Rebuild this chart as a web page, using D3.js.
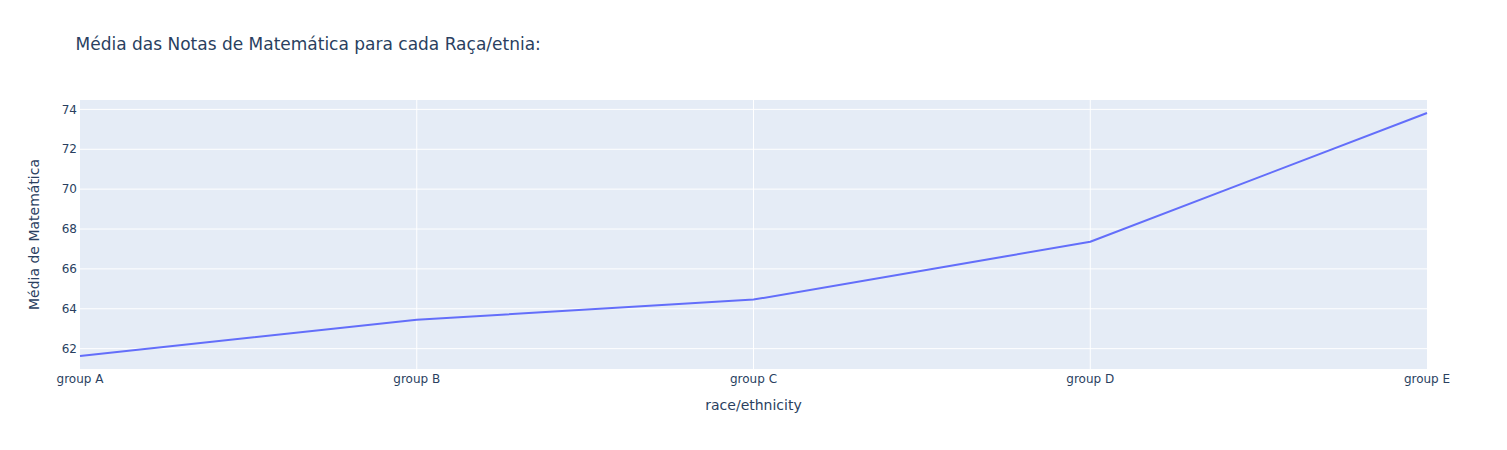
<!DOCTYPE html>
<html>

<head>
  <meta charset="utf-8">
  <title>Média das Notas de Matemática</title>
  <style>
    body {
      margin: 0;
      background: #fff;
    }

    text {
      font-family: "DejaVu Sans", verdana, arial, sans-serif;
      fill: #2a3f5f;
    }

    .grid line {
      stroke: #fff;
      stroke-width: 1px;
    }
  </style>
</head>

<body>
  <svg width="1507" height="450"></svg>

  <script src="https://d3js.org/d3.v7.min.js"></script>
  <script>
    // Dados
    var grupos = ["group A", "group B", "group C", "group D", "group E"];
    var mediaMat = [61.63, 63.45, 64.46, 67.36, 73.82];
    var yTicks = [62, 64, 66, 68, 70, 72, 74];
    var yRange = [60.98, 74.47];

    var margin = { top: 100, right: 80, bottom: 81, left: 80 };
    var width = 1507 - margin.left - margin.right;
    var height = 450 - margin.top - margin.bottom;

    var svg = d3.select("svg");

    var g = svg.append("g")
      .attr("transform", "translate(" + margin.left + "," + margin.top + ")");

    var x = d3.scalePoint()
      .domain(grupos)
      .range([0, width]);

    var y = d3.scaleLinear()
      .domain(yRange)
      .range([height, 0]);

    // Fundo da área do gráfico
    g.append("rect")
      .attr("width", width)
      .attr("height", height)
      .attr("fill", "#E5ECF6");

    // Linhas de grade
    g.append("g")
      .attr("class", "grid")
      .selectAll("line")
      .data(yTicks)
      .enter().append("line")
      .attr("x1", 0)
      .attr("x2", width)
      .attr("y1", function (d) { return y(d); })
      .attr("y2", function (d) { return y(d); });

    g.append("g")
      .attr("class", "grid")
      .selectAll("line")
      .data(grupos.slice(1, -1))
      .enter().append("line")
      .attr("y1", 0)
      .attr("y2", height)
      .attr("x1", function (d) { return x(d); })
      .attr("x2", function (d) { return x(d); });

    // Rótulos dos eixos
    g.append("g")
      .selectAll("text")
      .data(yTicks)
      .enter().append("text")
      .attr("x", -3)
      .attr("y", function (d) { return y(d); })
      .attr("dy", "0.35em")
      .attr("text-anchor", "end")
      .style("font-size", "12px")
      .text(function (d) { return d; });

    g.append("g")
      .selectAll("text")
      .data(grupos)
      .enter().append("text")
      .attr("x", function (d) { return x(d); })
      .attr("y", height + 14)
      .attr("text-anchor", "middle")
      .style("font-size", "12px")
      .text(function (d) { return d; });

    // Linha
    var line = d3.line()
      .x(function (d, i) { return x(grupos[i]); })
      .y(function (d) { return y(d); });

    g.append("path")
      .datum(mediaMat)
      .attr("d", line)
      .attr("fill", "none")
      .attr("stroke", "#636efa")
      .attr("stroke-width", 2)
      .attr("stroke-linejoin", "round");

    // Títulos
    svg.append("text")
      .attr("x", 75.5)
      .attr("y", 50)
      .style("font-size", "17px")
      .text("Média das Notas de Matemática para cada Raça/etnia:");

    svg.append("text")
      .attr("x", margin.left + width / 2)
      .attr("y", 410)
      .attr("text-anchor", "middle")
      .style("font-size", "14px")
      .text("race/ethnicity");

    svg.append("text")
      .attr("transform", "translate(39," + (margin.top + height / 2) + ") rotate(-90)")
      .attr("text-anchor", "middle")
      .style("font-size", "14px")
      .text("Média de Matemática");
  </script>
</body>

</html>
